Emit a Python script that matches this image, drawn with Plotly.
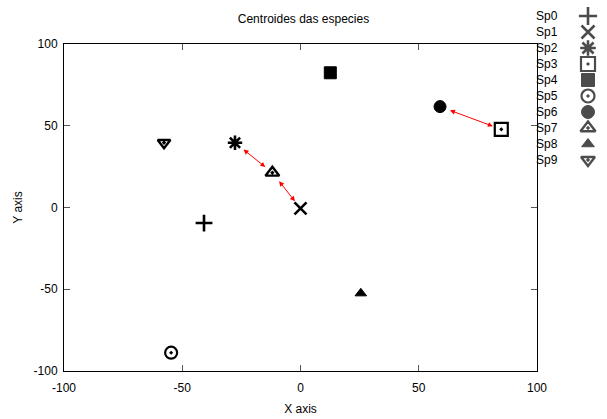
import plotly.graph_objects as go

species = ["Sp0", "Sp1", "Sp2", "Sp3", "Sp4", "Sp5", "Sp6", "Sp7", "Sp8", "Sp9"]
x_vals = [-40.8, 0.0, -27.7, 84.9, 12.6, -54.7, 59.0, -11.9, 25.5, -57.7]
y_vals = [-9.5, -0.5, 39.6, 47.8, 82.4, -88.8, 61.7, 21.3, -52.5, 39.6]
symbols = ["cross-thin", "x-thin", "asterisk-open", "square-open-dot", "square",
           "circle-open-dot", "circle", "triangle-up-open-dot", "triangle-up",
           "triangle-down-open-dot"]
sizes = [12, 12, 12, 13, 12, 12, 12, 12, 10, 11]
line_widths = [2.6, 2.6, 2.6, 2.2, 1, 2.2, 1, 2.4, 1, 2.4]
# arrows between species (from, to)
links = [(2, 7), (7, 1), (6, 3)]
tick_vals = [-100, -50, 0, 50, 100]
tick_text = ["-100", "-50", "0", "50", "100"]

FONT = "Liberation Sans, Arial, sans-serif"

fig = go.Figure()

for i, sp in enumerate(species):
    fig.add_trace(go.Scatter(
        x=[x_vals[i]], y=[y_vals[i]], mode="markers", name=sp,
        marker=dict(symbol=symbols[i], size=sizes[i], color="black",
                    line=dict(color="black", width=line_widths[i])),
        xaxis="x", yaxis="y", showlegend=False, cliponaxis=False))

# legend markers on an auxiliary axis (row index as y)
fig.add_trace(go.Scatter(
    x=[51] * len(species), y=list(range(len(species))), mode="markers",
    marker=dict(symbol=symbols, size=[s + 1 for s in sizes], color="black",
                line=dict(color="black", width=line_widths)),
    xaxis="x2", yaxis="y2", showlegend=False, hoverinfo="skip", cliponaxis=False))

annotations = []
for i, sp in enumerate(species):
    annotations.append(dict(x=23, y=i, xref="x2", yref="y2", text=sp,
                            showarrow=False, xanchor="right", yanchor="middle",
                            font=dict(family=FONT, size=12, color="black")))

for a, b in links:
    annotations.append(dict(
        x=x_vals[b], y=y_vals[b], ax=x_vals[a], ay=y_vals[a],
        xref="x", yref="y", axref="x", ayref="y", text="",
        showarrow=True, arrowhead=2, startarrowhead=2, arrowside="end+start",
        arrowsize=1, startarrowsize=1, arrowwidth=1, arrowcolor="red",
        standoff=9, startstandoff=9))

main_x_end = 473 / 533
main_y_end = 327 / 361

axis_common = dict(showline=True, linecolor="black", linewidth=1, mirror="ticks",
                   ticks="inside", ticklen=6, tickcolor="#555", tickwidth=1,
                   showgrid=False, zeroline=False, automargin=False,
                   tickfont=dict(family=FONT, size=12, color="black"),
                   tickvals=tick_vals, ticktext=tick_text)

fig.update_layout(
    width=607, height=419,
    margin=dict(l=64, r=10, t=10, b=48),
    paper_bgcolor="white", plot_bgcolor="white",
    title=dict(text="Centroides das especies", x=0.5, xref="container",
               y=(419 - 19) / 419, yref="container", yanchor="middle", xanchor="center",
               font=dict(family=FONT, size=12, color="black")),
    xaxis=dict(domain=[0, main_x_end], range=[-100, 100], anchor="y",
               ticklabelstandoff=6,
               title=dict(text="X axis", standoff=10,
                          font=dict(family=FONT, size=12, color="black")),
               **axis_common),
    yaxis=dict(domain=[0, main_y_end], range=[-100, 100], anchor="x",
               ticklabelstandoff=3,
               title=dict(text="Y axis", standoff=8,
                          font=dict(family=FONT, size=12, color="black")),
               **axis_common),
    xaxis2=dict(domain=[main_x_end, 1], range=[0, 60], visible=False, anchor="y2",
                automargin=False),
    yaxis2=dict(domain=[0, 1], range=[22.19, -0.375], visible=False, anchor="x2",
                automargin=False),
    annotations=annotations,
    showlegend=False,
)

fig.write_html("out.html")
